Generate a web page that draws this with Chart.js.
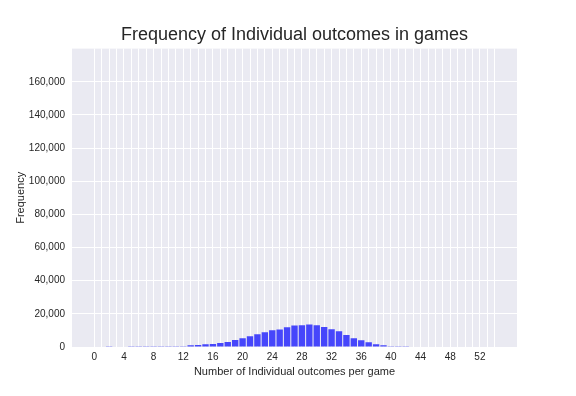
<!DOCTYPE html>
<html lang="en">
  <head>
    <meta charset="UTF-8" />
    <title>Frequency of Individual outcomes in games</title>
    <style>
      html, body { margin: 0; padding: 0; background: #ffffff; }
      #wrap { position: relative; width: 576px; height: 396px; }
    </style>
  </head>
  <body>
    <div id="wrap">
      <canvas id="chart-1" width="576" height="396"></canvas>
    </div>
    <script src="https://cdn.jsdelivr.net/npm/chart.js"></script>
    <script>
      // outcomes per game (x) and how often each occurred (y)
      const outcomes = [
        2, 3, 4, 5, 6, 7, 8, 9, 10, 11, 12, 13, 14, 15, 16, 17, 18, 19, 20, 21,
        22, 23, 24, 25, 26, 27, 28, 29, 30, 31, 32, 33, 34, 35, 36, 37, 38, 39,
        40, 41, 42
      ];
      const frequency = [
        400, 0, 0, 400, 400, 400, 400, 400, 400, 400, 450, 1100, 1200, 1700,
        1800, 2400, 3000, 4200, 5300, 6500, 7700, 8900, 10100, 10600, 11900,
        13000, 13100, 13600, 13100, 12000, 10700, 9500, 7200, 5300, 4100, 2900,
        1700, 1000, 500, 400, 400
      ];
      const xLabelTicks = [0, 4, 8, 12, 16, 20, 24, 28, 32, 36, 40, 44, 48, 52];
      const yTicks = [0, 20000, 40000, 60000, 80000, 100000, 120000, 140000, 160000];

      const textColor = "#262626";
      const fontFamily = "'Liberation Sans', Arial, sans-serif";

      const plotBg = {
        id: "plotBg",
        beforeDraw(chart) {
          const { ctx, chartArea } = chart;
          ctx.save();
          ctx.fillStyle = "#eaeaf2";
          ctx.fillRect(chartArea.left, chartArea.top,
            chartArea.right - chartArea.left, chartArea.bottom - chartArea.top);
          ctx.restore();
        }
      };

      const ctx_1 = document.getElementById("chart-1");

      new Chart(ctx_1, {
        type: "bar",
        data: {
          datasets: [
            {
              label: "Frequency",
              data: outcomes.map((x, i) => ({ x: x, y: frequency[i] })),
              backgroundColor: "#4646fb",
              borderWidth: 0,
              barPercentage: 0.86,
              categoryPercentage: 1.0
            }
          ]
        },
        options: {
          responsive: false,
          animation: false,
          devicePixelRatio: 1,
          layout: { padding: { left: 0, right: 59, top: 0, bottom: 16 } },
          plugins: {
            legend: { display: false },
            tooltip: { enabled: false },
            title: {
              display: true,
              fullSize: false,
              text: "Frequency of Individual outcomes in games",
              color: textColor,
              font: { family: fontFamily, size: 18, weight: "normal" },
              padding: { top: 24, bottom: 3 }
            }
          },
          scales: {
            x: {
              type: "linear",
              min: -3,
              max: 57,
              offset: false,
              border: { display: false },
              grid: {
                offset: false,
                drawTicks: false,
                lineWidth: 1,
                color: (c) =>
                  c.tick && c.tick.value >= 0 && c.tick.value <= 54 ? "#ffffff" : "rgba(0,0,0,0)"
              },
              ticks: {
                stepSize: 1,
                autoSkip: false,
                maxRotation: 0,
                padding: 4,
                color: textColor,
                font: { family: fontFamily, size: 10 },
                callback: (v) => (xLabelTicks.includes(v) ? String(v) : "")
              },
              title: {
                display: true,
                text: "Number of Individual outcomes per game",
                color: textColor,
                font: { family: fontFamily, size: 11 },
                padding: { top: 2, bottom: 1 }
              },
              afterFit: (s) => { s.height = 33; }
            },
            y: {
              min: 0,
              max: 180000,
              border: { display: false },
              grid: {
                drawTicks: false,
                lineWidth: 1,
                color: (c) =>
                  c.tick && yTicks.includes(c.tick.value) ? "#ffffff" : "rgba(0,0,0,0)"
              },
              ticks: {
                stepSize: 20000,
                autoSkip: false,
                padding: 7,
                color: textColor,
                font: { family: fontFamily, size: 10 },
                callback: (v) => (yTicks.includes(v) ? v.toLocaleString("en-US") : "")
              },
              title: {
                display: true,
                text: "Frequency",
                color: textColor,
                font: { family: fontFamily, size: 11 },
                padding: { top: 14, bottom: 4 }
              },
              afterFit: (s) => { s.width = 72; }
            }
          }
        },
        plugins: [plotBg]
      });
    </script>
  </body>
</html>
